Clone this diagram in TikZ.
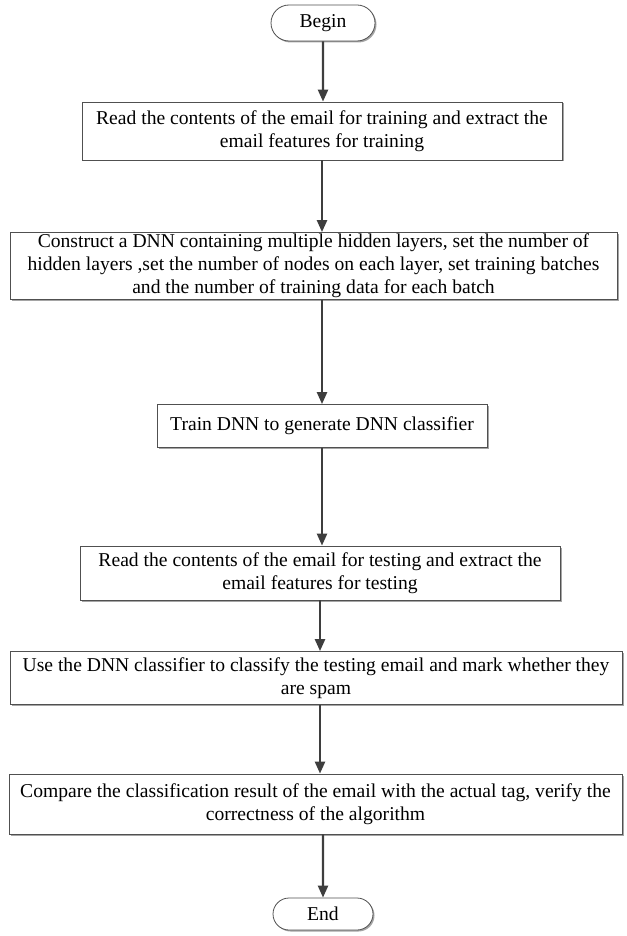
\documentclass[tikz,border=0pt]{standalone}
\usepackage{fontspec}
\setmainfont{Liberation Serif}
\usetikzlibrary{shapes.misc,arrows.meta,shadows}
\definecolor{BoxLine}{RGB}{80,80,80}
\definecolor{ArrLine}{RGB}{62,62,62}
\definecolor{ShdCol} {RGB}{165,165,165}
\tikzset{
  nd_term/.style={
    rounded rectangle, draw=BoxLine, fill=white, line width=0.8pt,
    minimum width=104pt, minimum height=36pt, inner sep=0pt,
    font=\fontsize{19.6}{23}\selectfont,
    drop shadow={shadow xshift=1.5pt, shadow yshift=-1.5pt, fill=ShdCol, opacity=1}},
  nd_proc/.style={
    rectangle, draw=BoxLine, fill=white, line width=0.8pt,
    align=center, inner sep=0pt,
    font=\fontsize{19.6}{23}\selectfont,
    drop shadow={shadow xshift=1.5pt, shadow yshift=-1.5pt, fill=ShdCol, opacity=1}},
  arr/.style={-{Triangle[length=12pt,width=10pt]}, line width=2.4pt, draw=ArrLine},
}

\begin{document}
\begin{tikzpicture}[x=1pt,y=-1pt]

\useasboundingbox (0,0) rectangle (626,936);

%% terminals and steps
\node[nd_term] at (323,23)  (Beg){Begin};
\node[nd_proc, minimum width=480pt, minimum height=58pt] at (322,131) (P1)
  {Read the contents of the email for training and extract the\\email features for training};
\node[nd_proc, minimum width=607pt, minimum height=67pt] at (313.5,266) (P2)
  {Construct a DNN containing multiple hidden layers, set the number of\\
   hidden layers ,set the number of nodes on each layer, set training batches\\
   and the number of training data for each batch};
\node[nd_proc, minimum width=330pt, minimum height=43pt] at (322,426) (P3)
  {Train DNN to generate DNN classifier};
\node[nd_proc, minimum width=480pt, minimum height=54pt] at (320,573) (P4)
  {Read the contents of the email for testing and extract the\\email features for testing};
\node[nd_proc, minimum width=612pt, minimum height=53pt] at (316,678) (P5)
  {Use the DNN classifier to classify the testing email and mark whether they\\are spam};
\node[nd_proc, minimum width=613pt, minimum height=60pt] at (315.5,804) (P6)
  {Compare the classification result of the email with the actual tag, verify the\\correctness of the algorithm};
\node[nd_term, minimum width=100pt, minimum height=32pt] at (323,914) (Fin){End};

%% connectors
\draw[arr] (Beg)--(Beg |- P1.north);
\draw[arr] (P1)--(P1 |- P2.north);
\draw[arr] (P2.south -| P3)--(P3);
\draw[arr] (P3)--(P3 |- P4.north);
\draw[arr] (P4)--(P4 |- P5.north);
\draw[arr] (P5.south -| P4)--(P4 |- P6.north);
\draw[arr] (P6.south -| Fin)--(Fin);

\end{tikzpicture}
\end{document}
